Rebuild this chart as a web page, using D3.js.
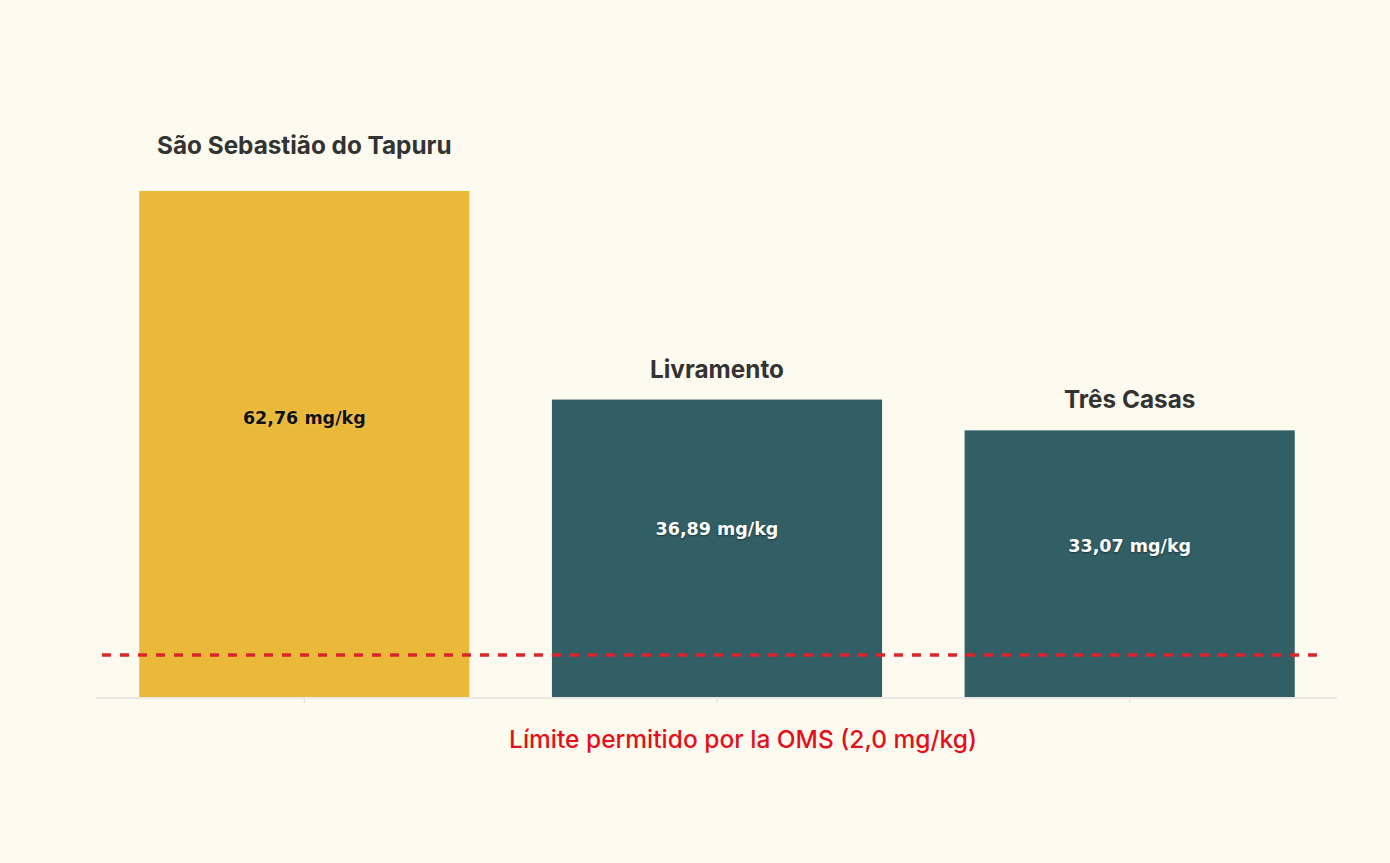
<!DOCTYPE html>
<html>
<head>
<meta charset="utf-8">
<script src="https://cdn.jsdelivr.net/npm/d3@7"></script>
<style>
  html, body { margin: 0; padding: 0; background: #fdfbf0; }
  svg { display: block; }
</style>
</head>
<body>
<div id="chart"></div>
<script>
const categories = ["São Sebastião do Tapuru", "Livramento", "Três Casas"];
const values = [62.76, 36.89, 33.07];
const valueLabels = ["62,76 mg/kg", "36,89 mg/kg", "33,07 mg/kg"];
const barColors = ["#ebb93a", "#315f65", "#315f65"];
const limitLineValue = 5.2; // position of dashed reference line as drawn
const limitLabel = "Límite permitido por la OMS (2,0 mg/kg)";

const W = 1390, H = 863;
const svg = d3.select("#chart").append("svg").attr("width", W).attr("height", H);
svg.append("rect").attr("width", W).attr("height", H).attr("fill", "#fdfbf0");

const x = d3.scaleBand().domain(categories).range([98, 1336]).paddingInner(0.2).paddingOuter(0.1);
const y = d3.scaleLinear().domain([0, 79]).range([697, 60]);

// baseline
svg.append("line").attr("x1", 96).attr("x2", 1337).attr("y1", y(0) + 1).attr("y2", y(0) + 1)
  .attr("stroke", "#ebe8e3").attr("stroke-width", 2);
// ticks
svg.selectAll(".tick").data(categories).enter().append("line")
  .attr("x1", d => x(d) + x.bandwidth() / 2).attr("x2", d => x(d) + x.bandwidth() / 2)
  .attr("y1", y(0) + 2).attr("y2", y(0) + 6).attr("stroke", "#e8e5e0").attr("stroke-width", 1.5);

const data = categories.map((c, i) => ({ c, v: values[i], lab: valueLabels[i], col: barColors[i], i }));

svg.selectAll(".bar").data(data).enter().append("rect")
  .attr("x", d => x(d.c)).attr("width", x.bandwidth())
  .attr("y", d => y(d.v)).attr("height", d => y(0) - y(d.v))
  .attr("fill", d => d.col);

// category labels
svg.selectAll(".cat").data(data).enter().append("text")
  .attr("x", d => x(d.c) + x.bandwidth() / 2)
  .attr("y", d => y(d.v) - (d.i === 0 ? 37 : 22))
  .attr("text-anchor", "middle")
  .attr("font-family", "Inter, Roboto, sans-serif").attr("font-weight", 700).attr("font-size", 24.3)
  .attr("fill", "#333333")
  .text(d => d.c);

// value labels
svg.selectAll(".val").data(data).enter().append("text")
  .attr("x", d => x(d.c) + x.bandwidth() / 2)
  .attr("y", d => {
    const h = y(0) - y(d.v);
    return (y(d.v) + y(0)) / 2 - 10 - 0.031 * h;
  })
  .attr("dy", "0.35em")
  .attr("text-anchor", "middle")
  .attr("font-family", "'DejaVu Sans', sans-serif").attr("font-weight", 700).attr("font-size", 17.5)
  .attr("fill", d => d.i === 0 ? "#111111" : "#ffffff")
  .style("text-shadow", d => d.i === 0 ? "0 0 2px rgba(255,255,255,0.35)" : "0 1px 2px rgba(0,0,0,0.45)")
  .text(d => d.lab);

// dashed limit line
svg.append("line").attr("x1", 102).attr("x2", 1322)
  .attr("y1", y(limitLineValue)).attr("y2", y(limitLineValue))
  .attr("stroke", "#d9262b").attr("stroke-width", 3.5)
  .attr("stroke-dasharray", "9,9").attr("stroke-dashoffset", 0);

svg.append("text").attr("x", 743).attr("y", 748).attr("text-anchor", "middle")
  .attr("font-family", "Inter, Roboto, sans-serif").attr("font-size", 24.5).attr("font-weight", 500)
  .attr("fill", "#e3101a").text(limitLabel);
</script>
</body>
</html>
